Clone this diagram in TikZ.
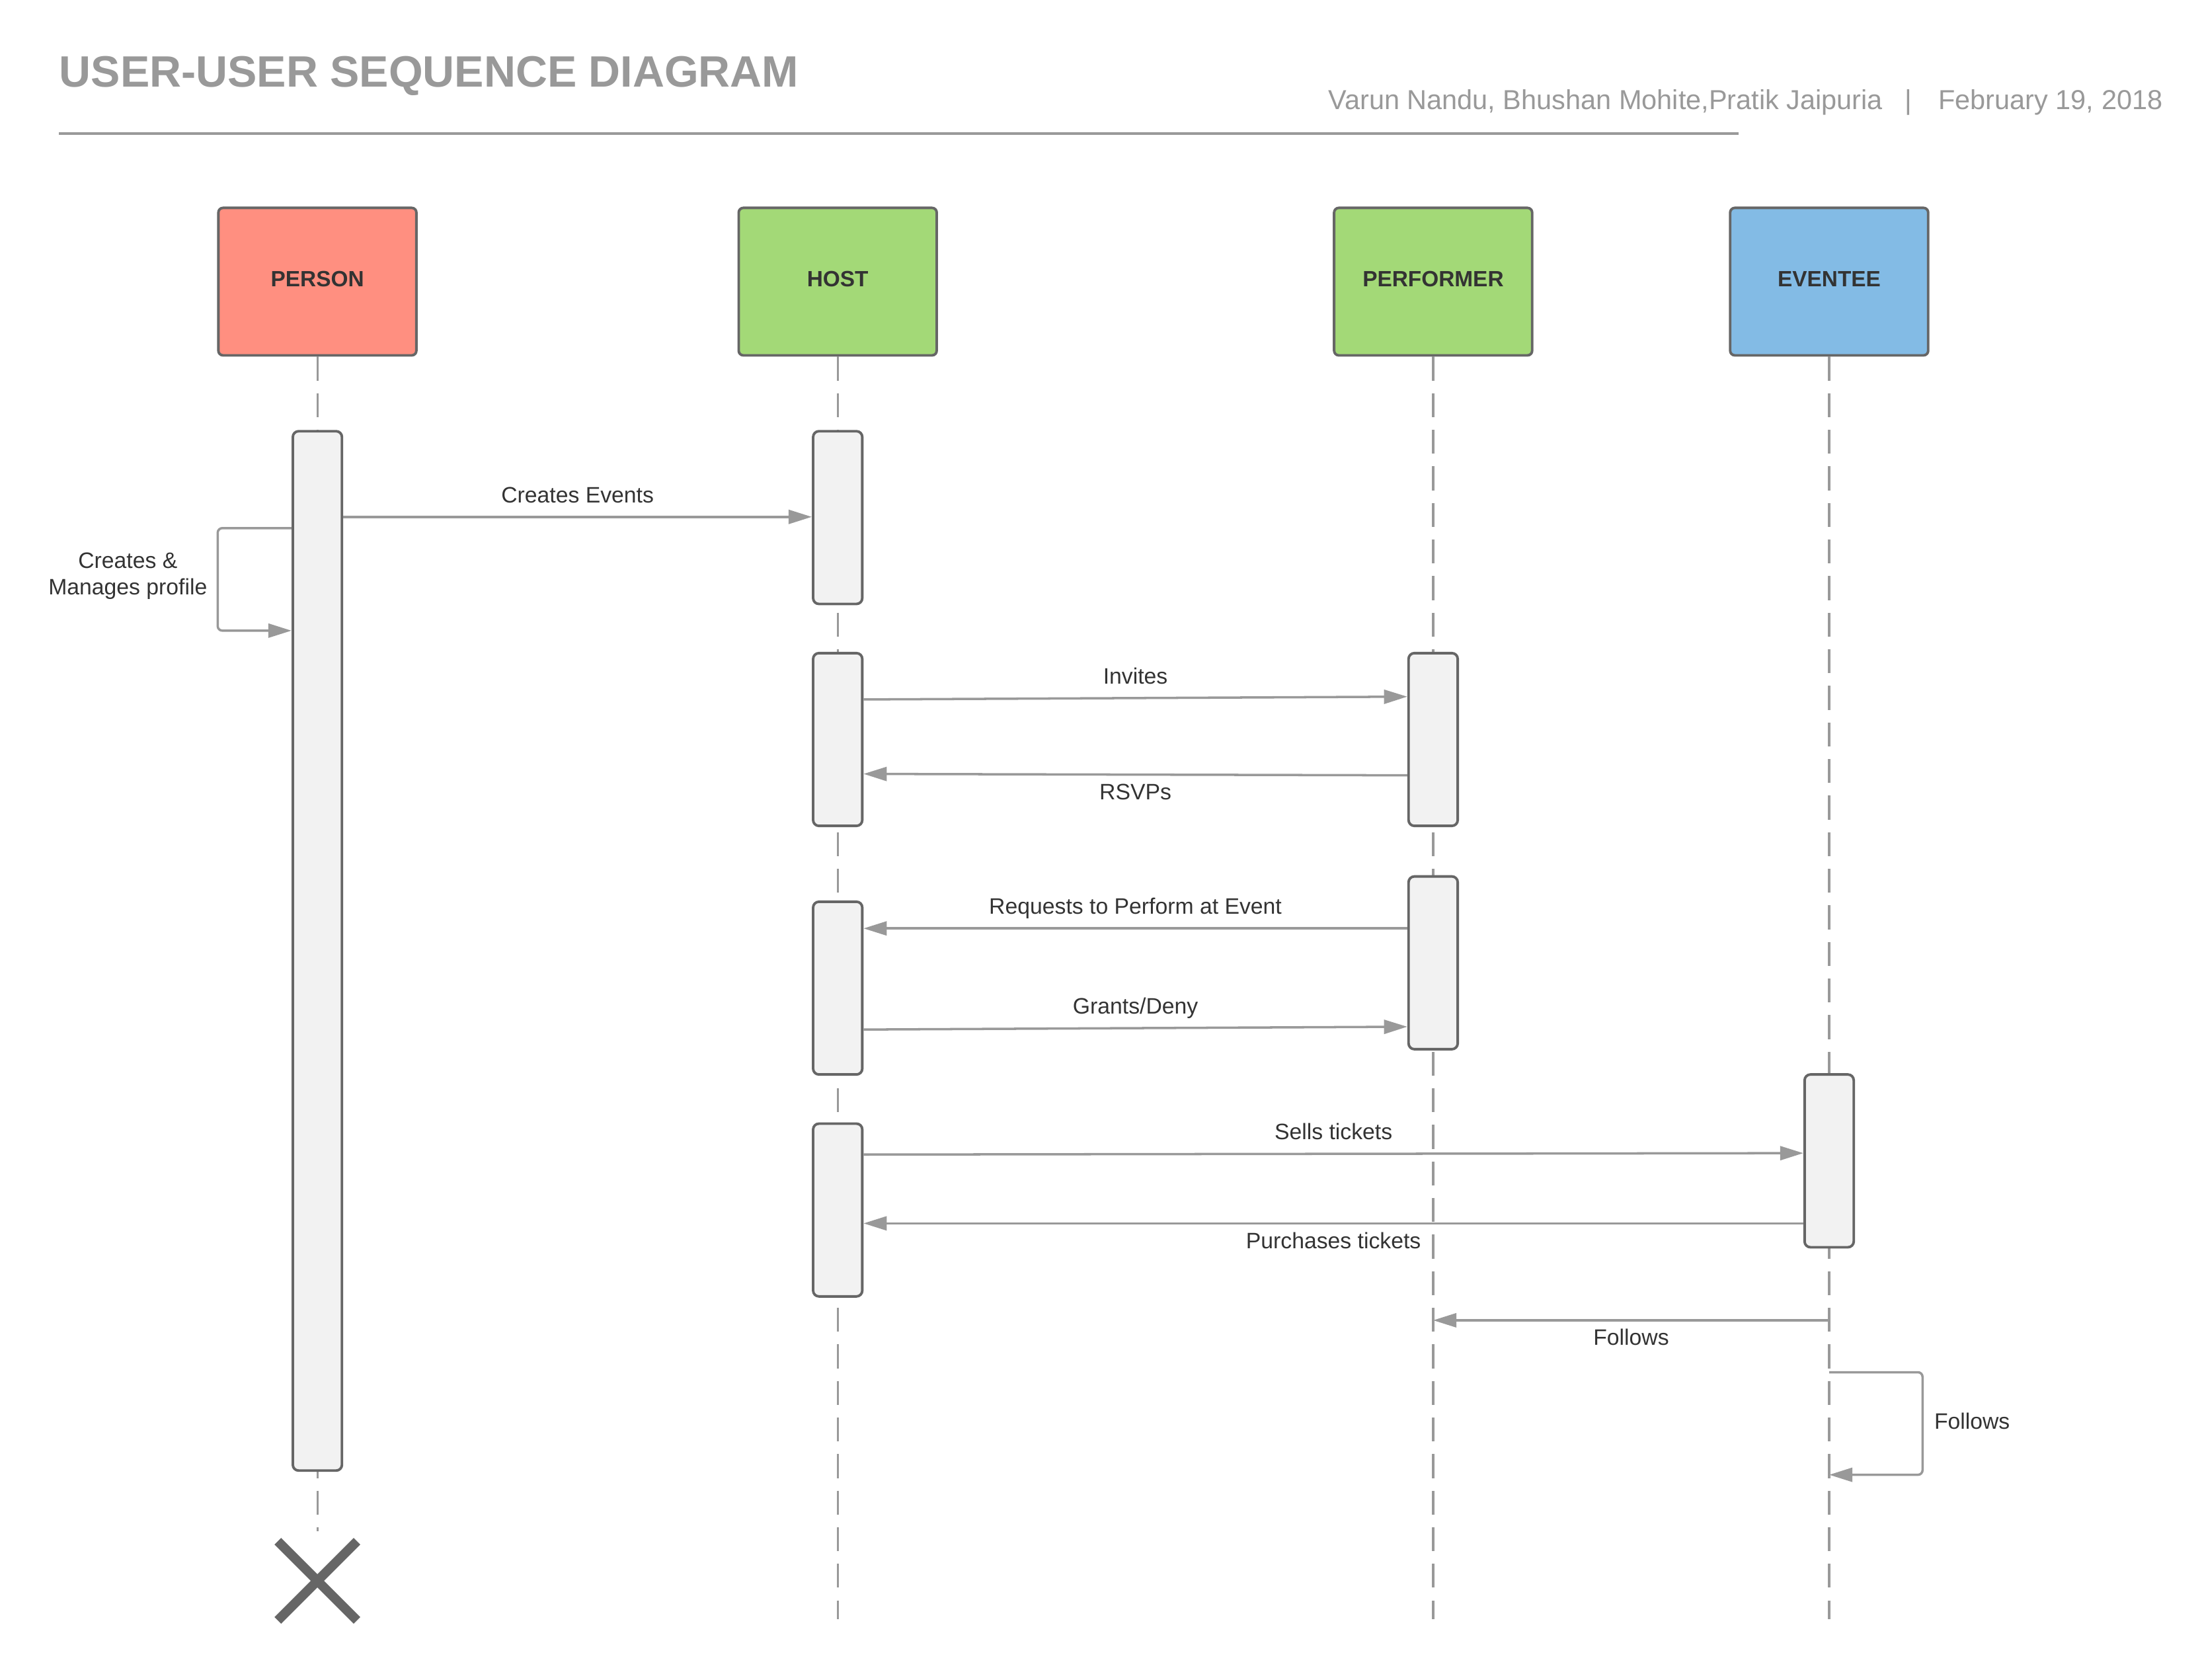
\documentclass[tikz,border=0pt]{standalone}
\usepackage{fontspec}
\setmainfont{Liberation Sans}
\usetikzlibrary{arrows.meta}
\usetikzlibrary{calc}

\definecolor{linegray}{HTML}{999999}
\definecolor{boxgray}{HTML}{666666}
\definecolor{textgray}{HTML}{333333}
\definecolor{personred}{HTML}{FF8F80}
\definecolor{rolegreen}{HTML}{A3D977}
\definecolor{eventeeblue}{HTML}{83BBE5}
\definecolor{actfill}{HTML}{F2F2F2}

\newcommand{\dpx}{0.021244cm}

\tikzset{
  head/.style={draw=boxgray, line width=1.1pt, rounded corners=2pt, minimum width=141*\dpx, minimum height=105*\dpx, text depth=2.5pt, font=\fontsize{9.5}{11}\selectfont\bfseries, text=textgray},
  act/.style={draw=boxgray, fill=actfill, line width=1.1pt, rounded corners=2.5pt, minimum width=35*\dpx, inner sep=0pt},
  life/.style={linegray, line width=0.9pt, dash pattern=on 10.3pt off 5.44pt},
  msg/.style={linegray, line width=1pt, -{Triangle[length=10pt,width=6pt]}},
  lbl/.style={font=\fontsize{9.6}{11.5}\selectfont, text=textgray},
  lblup/.style={lbl, inner sep=0pt, text depth=0pt, above=5.6pt},
  lbldn/.style={lbl, inner sep=0pt, text height=6.9pt, below=3.4pt},
  sub/.style={font=\fontsize{11.8}{14}\selectfont, text=linegray, inner sep=0pt}
}

\begin{document}
\begin{tikzpicture}[x=\dpx, y=-\dpx]
        \useasboundingbox (0,0) rectangle (1568,1196.1);

        % title
        \node[anchor=base west, inner sep=0pt, font=\fontsize{18.9}{22}\selectfont\bfseries, text=linegray] (title) at (42,62) {USER-USER SEQUENCE DIAGRAM};
        \node[sub, anchor=base east] (names) at (1341,78) {Varun Nandu, Bhushan Mohite,Pratik Jaipuria};
        \node[sub, anchor=base] (bar) at (1359,78) {|};
        \node[sub, anchor=base west] (date) at (1380,78) {February 19, 2018};
        \draw[linegray, line width=1.2pt] (42,95) -- (1238,95);

        % heads
        \node[head, fill=personred] (person) at (226,200.5) {PERSON};
        \node[head, fill=rolegreen] (host) at (596.5,200.5) {HOST};
        \node[head, fill=rolegreen] (perf) at (1020.5,200.5) {PERFORMER};
        \node[head, fill=eventeeblue] (evt) at (1302.5,200.5) {EVENTEE};

        % lifelines
        \draw[life] (person.south) -- (person.south |- 0,1090);
        \draw[life] (host.south) -- (host.south |- 0,1153);
        \draw[life] (perf.south) -- (perf.south |- 0,1153);
        \draw[life] (evt.south) -- (evt.south |- 0,1153);

        % activations
        \node[act, minimum height=740*\dpx] (pa) at (226,677) {};
        \node[act, minimum height=123*\dpx] (h1) at (596.5,368.5) {};
        \node[act, minimum height=123*\dpx] (h2) at (596.5,526.5) {};
        \node[act, minimum height=123*\dpx] (h3) at (596.5,703.5) {};
        \node[act, minimum height=123*\dpx] (h4) at (596.5,861.5) {};
        \node[act, minimum height=123*\dpx] (f1) at (1020.5,526.5) {};
        \node[act, minimum height=123*\dpx] (f2) at (1020.5,685.5) {};
        \node[act, minimum height=123*\dpx] (e1) at (1302.5,826.5) {};

        % messages
        \draw[msg] (pa.east |- 0,368) -- (h1.west |- 0,368) node[lblup, midway] {Creates Events};
        \draw[msg, rounded corners=2pt] (pa.west |- 0,376) -- (155,376) -- (155,449) -- (pa.west |- 0,449);
        \node[lbl, align=center] (selfp) at (91,410) {Creates \&\\Manages profile};
        \draw[msg] (h2.east |- 0,498) -- (f1.west |- 0,496) node[lblup, midway] {Invites};
        \draw[msg] (f1.west |- 0,552) -- (h2.east |- 0,551) node[lbldn, midway] {RSVPs};
        \draw[msg] (f2.west |- 0,661) -- (h3.east |- 0,661) node[lblup, midway] {Requests to Perform at Event};
        \draw[msg] (h3.east |- 0,733) -- (f2.west |- 0,731) node[lblup, midway] {Grants/Deny};
        \draw[msg] (h4.east |- 0,822) -- (e1.west |- 0,821) node[lblup, midway] {Sells tickets};
        \draw[msg] (e1.west |- 0,871) -- (h4.east |- 0,871) node[lbldn, midway] {Purchases tickets};
        \draw[msg] (evt.south |- 0,940) -- (perf.south |- 0,940) node[lbldn, midway] {Follows};
        \draw[msg, rounded corners=2pt] (evt.south |- 0,977) -- (1369,977) -- (1369,1050) -- (evt.south |- 0,1050);
        \node[lbl, anchor=west, inner sep=0pt] (selfe) at (1377,1012) {Follows};

        % end of person
        \coordinate (stop) at (person.south |- 0,1125.5);
        \draw[boxgray, line width=4pt] ($(stop)+(-28.2,-28.2)$) -- ($(stop)+(28.2,28.2)$);
        \draw[boxgray, line width=4pt] ($(stop)+(-28.2,28.2)$) -- ($(stop)+(28.2,-28.2)$);

    \end{tikzpicture}
\end{document}
